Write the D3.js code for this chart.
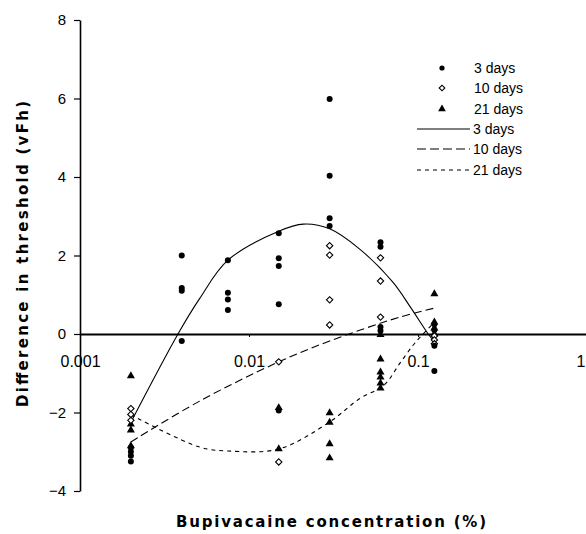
<!DOCTYPE html>
<html>
<head>
<meta charset="utf-8">
<script src="https://cdn.jsdelivr.net/npm/d3@7"></script>
<style>
  html, body { margin: 0; padding: 0; background: #fff; }
  svg { display: block; }
</style>
</head>
<body>
<svg id="chart" width="586" height="534"></svg>
<script>
// ---------- data ----------
const doses = [0.002, 0.004, 0.0075, 0.015, 0.03, 0.06, 0.125];

// observed points per dose (same order as doses)
const days3 = [
  [-2.9, -3.0, -3.1, -3.25],
  [2.0, 1.17, 1.1, -0.18],
  [1.88, 1.05, 0.88, 0.61],
  [2.57, 1.93, 1.73, 0.76, -1.95],
  [5.99, 4.03, 2.95, 2.75],
  [2.34, 2.22, 0.18, 0.08],
  [0.25, 0.1, -0.3, -0.94]
];
const days10 = [
  [-1.9, -2.05, -2.2],
  [],
  [],
  [-0.71, -3.26],
  [2.25, 2.01, 0.87, 0.23],
  [1.94, 1.35, 0.43],
  [-0.05, -0.15, -0.25]
];
const days21 = [
  [-1.07, -2.3, -2.45, -2.85],
  [],
  [],
  [-1.88, -2.93],
  [-2.01, -2.25, -2.8, -3.16],
  [-0.02, -0.64, -0.97, -1.1, -1.25, -1.38],
  [1.02, 0.3, 0.15, 0.0]
];

// trend lines
const fit3X = [0.002, 0.0038, 0.0051, 0.0075, 0.015, 0.021, 0.03, 0.045, 0.071, 0.09, 0.115, 0.125];
const fit3Y = [-2.25, 0.0, 0.9, 1.88, 2.62, 2.8, 2.68, 2.17, 1.32, 0.69, 0.0, -0.2];
const fit10X = [0.002, 0.0051, 0.015, 0.03, 0.078, 0.125];
const fit10Y = [-2.75, -1.71, -0.71, -0.18, 0.43, 0.66];
const fit21X = [0.002, 0.0051, 0.0075, 0.015, 0.03, 0.045, 0.063, 0.078, 0.093, 0.103, 0.125];
const fit21Y = [-2.06, -2.88, -2.98, -2.93, -2.24, -1.65, -1.3, -0.75, -0.3, -0.08, 0.3];

const xTicks = [0.001, 0.01, 0.1, 1];
const xTickLabels = ["0.001", "0.01", "0.1", "1"];
const yTicks = [-4, -2, 0, 2, 4, 6, 8];
const legendLabels = ["3 days", "10 days", "21 days"];
const xTitle = "Bupivacaine concentration (%)";
const yTitle = "Difference in threshold (vFh)";

// ---------- chart ----------
const svg = d3.select("#chart");
const x = d3.scaleLog().domain([0.001, 1]).range([80, 587]);
const y = d3.scaleLinear().domain([-4, 8]).range([491, 20]);

const tickFont = "Arial, 'Liberation Sans', sans-serif";

// y axis
const yAxis = svg.append("g")
  .attr("transform", `translate(${x(0.001)},0)`)
  .call(d3.axisLeft(y).tickValues(yTicks).tickSize(6).tickSizeOuter(0).tickPadding(8)
    .tickFormat(d3.format("d")));
yAxis.select(".domain").attr("stroke-width", 1.6);
yAxis.selectAll(".tick line").attr("stroke-width", 1.2);
yAxis.selectAll("text").attr("font-family", tickFont).attr("font-size", 15).attr("fill", "#000");

// x axis at y = 0
const xAxis = svg.append("g")
  .attr("transform", `translate(0,${y(0)})`)
  .call(d3.axisBottom(x).tickValues(xTicks).tickSize(3).tickSizeOuter(0).tickPadding(19)
    .tickFormat((d, i) => xTickLabels[i]));
xAxis.select(".domain").attr("stroke-width", 1.8);
xAxis.selectAll("text").attr("font-family", tickFont).attr("font-size", 16).attr("fill", "#000")
  .filter(d => d === 1).attr("text-anchor", "end").attr("dx", "-2");

// trend lines
const line = d3.line().x(d => x(d[0])).y(d => y(d[1])).curve(d3.curveCatmullRom);
const fits = [
  {xs: fit3X, ys: fit3Y, dash: null},
  {xs: fit10X, ys: fit10Y, dash: "8,4"},
  {xs: fit21X, ys: fit21Y, dash: "4,4"}
];
fits.forEach(f => {
  svg.append("path")
    .datum(f.xs.map((v, i) => [v, f.ys[i]]))
    .attr("d", line)
    .attr("fill", "none")
    .attr("stroke", "#000")
    .attr("stroke-width", 1.1)
    .attr("stroke-dasharray", f.dash);
});

// markers
function flatten(series) {
  const out = [];
  series.forEach((vals, i) => vals.forEach(v => out.push([doses[i], v])));
  return out;
}
const diamond = d3.symbol().type(d3.symbolSquare).size(20);
const triangle = d3.symbol().type(d3.symbolTriangle).size(28);

svg.append("g").selectAll("path").data(flatten(days21)).join("path")
  .attr("d", triangle)
  .attr("transform", d => `translate(${x(d[0])},${y(d[1])})`)
  .attr("fill", "#000");

svg.append("g").selectAll("path").data(flatten(days10)).join("path")
  .attr("d", diamond)
  .attr("transform", d => `translate(${x(d[0])},${y(d[1])}) rotate(45)`)
  .attr("fill", "#fff").attr("stroke", "#000").attr("stroke-width", 1.1);

svg.append("g").selectAll("circle").data(flatten(days3)).join("circle")
  .attr("cx", d => x(d[0])).attr("cy", d => y(d[1])).attr("r", 3)
  .attr("fill", "#000");

// legend
const legFont = "Arial, 'Liberation Sans', sans-serif";
const legMarkY = [68, 88, 109];
const legLineY = [129, 149, 170];
svg.append("circle").attr("cx", 442).attr("cy", legMarkY[0]).attr("r", 2.6).attr("fill", "#000");
svg.append("path").attr("d", d3.symbol().type(d3.symbolSquare).size(16)())
  .attr("transform", `translate(442,${legMarkY[1]}) rotate(45)`)
  .attr("fill", "#fff").attr("stroke", "#000").attr("stroke-width", 1.1);
svg.append("path").attr("d", d3.symbol().type(d3.symbolTriangle).size(26)())
  .attr("transform", `translate(442,${legMarkY[2]})`).attr("fill", "#000");
legMarkY.forEach((yy, i) => {
  svg.append("text").attr("x", 474).attr("y", yy + 5)
    .attr("font-family", legFont).attr("font-size", 14).text(legendLabels[i]);
});
const legDash = [null, "9,4", "4,4"];
legLineY.forEach((yy, i) => {
  svg.append("line").attr("x1", 417).attr("x2", 470).attr("y1", yy).attr("y2", yy)
    .attr("stroke", "#000").attr("stroke-width", 1.1).attr("stroke-dasharray", legDash[i]);
  svg.append("text").attr("x", 473).attr("y", yy + 5)
    .attr("font-family", legFont).attr("font-size", 14).text(legendLabels[i]);
});

// axis titles
const titleFont = "'DejaVu Sans', Verdana, sans-serif";
svg.append("text")
  .attr("x", 331).attr("y", 527)
  .attr("text-anchor", "middle")
  .attr("font-family", titleFont).attr("font-weight", "bold").attr("font-size", 15)
  .attr("textLength", 310).attr("lengthAdjust", "spacing")
  .text(xTitle);
svg.append("text")
  .attr("transform", "translate(28,254) rotate(-90)")
  .attr("text-anchor", "middle")
  .attr("font-family", titleFont).attr("font-weight", "bold").attr("font-size", 15)
  .attr("textLength", 306).attr("lengthAdjust", "spacing")
  .text(yTitle);
</script>
</body>
</html>
